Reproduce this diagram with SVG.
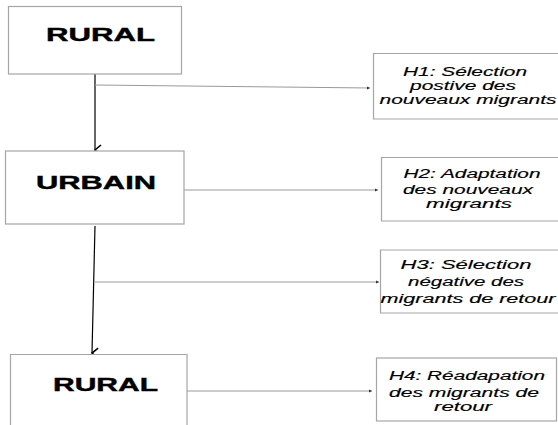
<svg xmlns="http://www.w3.org/2000/svg" width="558" height="425" viewBox="0 0 558 425">
<style>
.box{fill:#fff;stroke:#a6a6a6;stroke-width:1.2}
.main{font-family:"Liberation Sans",Arial,sans-serif;font-weight:bold;font-size:18.5px;fill:#000;stroke:#000;stroke-width:0.4}
.hyp{font-family:"Liberation Sans",Arial,sans-serif;font-style:italic;font-size:12.5px;fill:#000;text-anchor:middle;stroke:#000;stroke-width:0.15}
.thin{stroke:#999;stroke-width:1;fill:none}
.thick{stroke:#000;stroke-width:1.2;fill:none}
</style>
<defs>
<marker id="big" markerWidth="12" markerHeight="10" refX="6" refY="8" orient="auto" markerUnits="userSpaceOnUse" viewBox="0 0 12 10">
<path d="M1,2 L6,8 L11,2" fill="none" stroke="#000" stroke-width="1.6"/>
</marker>
<marker id="small" markerWidth="4" markerHeight="4" refX="3" refY="2" orient="auto" markerUnits="userSpaceOnUse" viewBox="0 0 4 4">
<path d="M0,0.5 L3,2 L0,3.5 Z" fill="#333"/>
</marker>
</defs>
<rect width="558" height="425" fill="#fff"/>
<g id="connectors">
<line class="thick" x1="95" y1="74" x2="95" y2="150" marker-end="url(#big)"/>
<line class="thick" x1="95" y1="226" x2="92" y2="353" marker-end="url(#big)"/>
<polyline class="thin" points="95,85 370,88" marker-end="url(#small)"/>
<line class="thin" x1="184" y1="190" x2="378" y2="190" marker-end="url(#small)"/>
<line class="thin" x1="95" y1="282" x2="379" y2="282" marker-end="url(#small)"/>
<line class="thin" x1="187" y1="391" x2="372" y2="391" marker-end="url(#small)"/>
</g>
<g id="rural1">
<rect class="box" x="8.5" y="6.5" width="173" height="67.5"/>
<text class="main" x="46" y="41" textLength="109" lengthAdjust="spacingAndGlyphs">RURAL</text>
</g>
<g id="urbain">
<rect class="box" x="5.5" y="151" width="178.5" height="73"/>
<text class="main" x="36" y="189" textLength="120" lengthAdjust="spacingAndGlyphs">URBAIN</text>
</g>
<g id="rural2">
<path class="box" d="M10.5,426 V354.5 H187 V426"/>
<text class="main" x="53" y="391" textLength="105" lengthAdjust="spacingAndGlyphs">RURAL</text>
</g>
<g id="h1">
<path class="box" d="M560,53.5 H373.5 V119 H560"/>
<text class="hyp" x="465" y="76" textLength="124" lengthAdjust="spacingAndGlyphs">H1: Sélection</text>
<text class="hyp" x="463" y="90" textLength="106" lengthAdjust="spacingAndGlyphs">postive des</text>
<text class="hyp" x="468" y="103.5" textLength="177" lengthAdjust="spacingAndGlyphs">nouveaux migrants</text>
</g>
<g id="h2">
<path class="box" d="M560,157.5 H381.5 V221 H560"/>
<text class="hyp" x="472" y="178" textLength="137" lengthAdjust="spacingAndGlyphs">H2: Adaptation</text>
<text class="hyp" x="468" y="194" textLength="130" lengthAdjust="spacingAndGlyphs">des nouveaux</text>
<text class="hyp" x="469" y="207.5" textLength="86" lengthAdjust="spacingAndGlyphs">migrants</text>
</g>
<g id="h3">
<path class="box" d="M560,250 H380.5 V313 H560"/>
<text class="hyp" x="466" y="269" textLength="131" lengthAdjust="spacingAndGlyphs">H3: Sélection</text>
<text class="hyp" x="466" y="286" textLength="116" lengthAdjust="spacingAndGlyphs">négative des</text>
<text class="hyp" x="468" y="303" textLength="175" lengthAdjust="spacingAndGlyphs">migrants de retour</text>
</g>
<g id="h4">
<rect class="box" x="376.5" y="358" width="180" height="63"/>
<text class="hyp" x="467" y="380" textLength="156" lengthAdjust="spacingAndGlyphs">H4: Réadapation</text>
<text class="hyp" x="464" y="396.5" textLength="150" lengthAdjust="spacingAndGlyphs">des migrants de</text>
<text class="hyp" x="463" y="410.5" textLength="58" lengthAdjust="spacingAndGlyphs">retour</text>
</g>
</svg>
